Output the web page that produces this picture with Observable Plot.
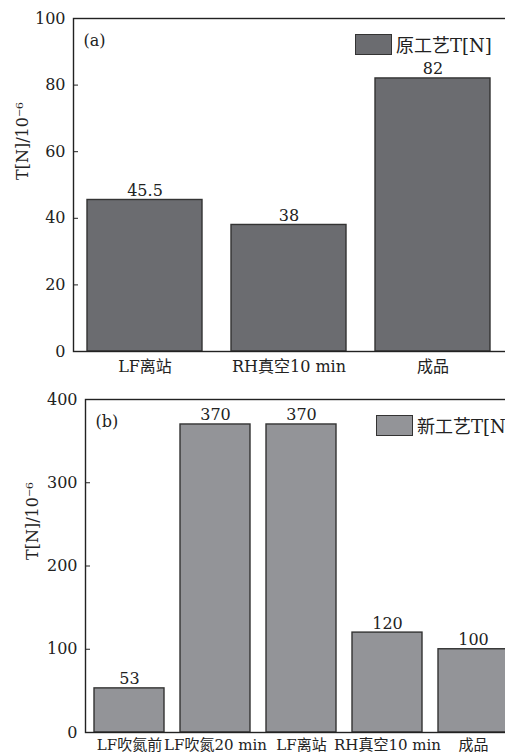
<!DOCTYPE html>
<html>
<head>
<meta charset="utf-8">
<script src="https://cdn.jsdelivr.net/npm/d3@7"></script>
<script src="https://cdn.jsdelivr.net/npm/@observablehq/plot@0.6"></script>
<style>
html, body { margin: 0; padding: 0; background: #fff; overflow: hidden; width: 505px; height: 754px; }
.panel { position: relative; width: 505px; overflow: hidden; }
.panel svg { max-width: none !important; }
.legend { position: absolute; display: flex; align-items: center; font-family: "DejaVu Serif", "Noto Sans CJK SC", serif; font-size: 18px; color: #222; white-space: nowrap; }
.legend .sw { width: 35px; height: 19px; border: 1.4px solid #333; margin-right: 4px; box-sizing: content-box; }
</style>
</head>
<body>
<div id="a" class="panel" style="height:380px"></div>
<div id="b" class="panel" style="height:374px"></div>
<script>
const FONT = '"DejaVu Serif", "Noto Sans CJK SC", serif';

// Panel (a): original process
const catsA = ["LF离站", "RH真空10 min", "成品"];
const valsA = [45.5, 38, 82];
const ticksA = [0, 20, 40, 60, 80, 100];
const legendA = "原工艺T[N]";
const tagA = "(a)";

// Panel (b): new process
const catsB = ["LF吹氮前", "LF吹氮20 min", "LF离站", "RH真空10 min", "成品"];
const valsB = [53, 370, 370, 120, 100];
const ticksB = [0, 100, 200, 300, 400];
const legendB = "新工艺T[N]";
const tagB = "(b)";

const yLabel = "T[N]/10⁻⁶";

function panel(o) {
  const data = o.cats.map((c, i) => ({cat: c, val: o.vals[i]}));
  const svg = Plot.plot({
    width: o.width, height: o.height,
    marginLeft: o.marginLeft, marginRight: 0, marginTop: o.marginTop, marginBottom: o.marginBottom,
    style: {fontFamily: FONT, fontSize: "16px", color: "#222", background: "#fff", maxWidth: "none"},
    x: {domain: o.cats, range: o.xRange, paddingInner: o.padIn, paddingOuter: o.padOut},
    y: {domain: [0, o.ymax]},
    marks: [
      Plot.barY(data, {x: "cat", y: "val", fill: o.color, stroke: "#333", strokeWidth: 1.4}),
      Plot.text(data, {x: "cat", y: "val", text: d => String(d.val), lineAnchor: "bottom", dy: -4, fontSize: 16}),
      Plot.axisX({tickSize: 0, tickPadding: o.xPad, fontSize: o.xFont, label: null}),
      Plot.axisY({ticks: o.ticks, tickSize: 0, tickPadding: 8, fontSize: 16, label: null}),
      Plot.axisY({ticks: o.ticks, tickSize: 5, dx: 5, fill: "none", label: null, stroke: "#222"}),
      Plot.frame({stroke: "#222", strokeWidth: 1.4}),
      Plot.text([o.tag], {frameAnchor: "top-left", textAnchor: "start", lineAnchor: "middle", dx: 10, dy: 22, fontSize: 16}),
      Plot.text([yLabel], {frameAnchor: "left", rotate: -90, dx: o.labelDx, dy: o.labelDy, fontSize: 16})
    ]
  });
  svg.style.maxWidth = "none";
  return svg;
}

function legend(parent, text, color, left, top) {
  const d = document.createElement("div");
  d.className = "legend";
  d.style.left = left + "px";
  d.style.top = top + "px";
  const sw = document.createElement("div");
  sw.className = "sw";
  sw.style.background = color;
  const t = document.createElement("span");
  t.textContent = text;
  d.appendChild(sw); d.appendChild(t);
  parent.appendChild(d);
}

const colA = "#6b6c70";
const colB = "#939498";

const elA = document.getElementById("a");
elA.appendChild(panel({cats: catsA, vals: valsA, ticks: ticksA, ymax: 100, color: colA, tag: tagA,
  width: 512, height: 380, marginLeft: 73, marginTop: 18, marginBottom: 29, labelDx: -51, labelDy: -5,
  xRange: [73, 505], padIn: 0.2, padOut: 0.1, xPad: 9, xFont: 16}));
legend(elA, legendA, colA, 355, 31);

const elB = document.getElementById("b");
elB.appendChild(panel({cats: catsB, vals: valsB, ticks: ticksB, ymax: 400, color: colB, tag: tagB,
  width: 525, height: 374, marginLeft: 85, marginTop: 19, marginBottom: 22, labelDx: -53, labelDy: -6,
  xRange: [85, 517], padIn: 0.19, padOut: 0.095, xPad: 7, xFont: 15}));
legend(elB, legendB, colB, 376, 32);
</script>
</body>
</html>
